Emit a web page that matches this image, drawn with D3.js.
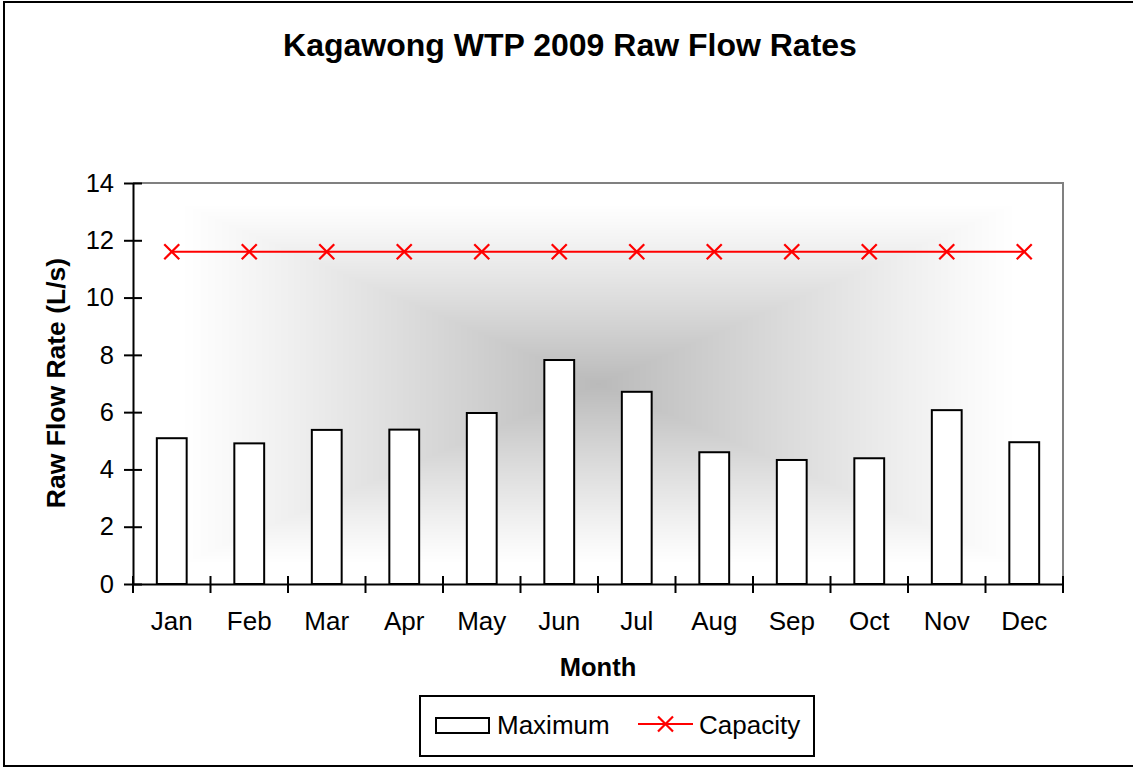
<!DOCTYPE html>
<html>
<head>
<meta charset="utf-8">
<script src="https://cdn.jsdelivr.net/npm/d3@7"></script>
<style>
  html, body { margin: 0; padding: 0; background: #fff; }
  svg { display: block; font-family: "Liberation Sans", Arial, sans-serif; }
</style>
</head>
<body>
<svg id="chart" width="1133" height="767"></svg>
<script>
const months = ["Jan","Feb","Mar","Apr","May","Jun","Jul","Aug","Sep","Oct","Nov","Dec"];
const maximum = [5.09, 4.91, 5.38, 5.39, 5.97, 7.82, 6.71, 4.60, 4.33, 4.39, 6.07, 4.95];
const capacity = [11.6, 11.6, 11.6, 11.6, 11.6, 11.6, 11.6, 11.6, 11.6, 11.6, 11.6, 11.6];
const yTicks = [0, 2, 4, 6, 8, 10, 12, 14];
const titleText = "Kagawong WTP 2009 Raw Flow Rates";
const xTitle = "Month";
const yTitle = "Raw Flow Rate (L/s)";
const seriesNames = ["Maximum", "Capacity"];

const svg = d3.select("#chart");
const plot = { left: 133, right: 1063, top: 183, bottom: 584 };
const FONT = "Liberation Sans, Arial, sans-serif";

// outer chart border
svg.append("rect").attr("x", 4).attr("y", 2).attr("width", 1140).attr("height", 764)
  .attr("fill", "#fff").attr("stroke", "#000").attr("stroke-width", 2);

const x = d3.scaleBand().domain(months).range([plot.left, plot.right]).padding(0);
const y = d3.scaleLinear().domain([0, 14]).range([plot.bottom, plot.top]);

// rectangular "from centre" gradient background via canvas
(function () {
  const w = plot.right - plot.left, h = plot.bottom - plot.top;
  const c = document.createElement("canvas");
  c.width = w; c.height = h;
  const ctx = c.getContext("2d");
  const img = ctx.createImageData(w, h);
  const cx = w / 2, cy = h / 2;
  for (let j = 0; j < h; j++) {
    for (let i = 0; i < w; i++) {
      const t = Math.max(Math.abs(i - cx) / cx, Math.abs(j - cy) / cy);
      const u = Math.min(1, t / 0.9);
      const s = 1 - Math.pow(1 - u, 1.1);
      const v = Math.round(186 + (255 - 186) * s);
      const k = (j * w + i) * 4;
      img.data[k] = v; img.data[k + 1] = v; img.data[k + 2] = v; img.data[k + 3] = 255;
    }
  }
  ctx.putImageData(img, 0, 0);
  svg.append("image").attr("x", plot.left).attr("y", plot.top)
    .attr("width", w).attr("height", h).attr("href", c.toDataURL());
})();

// plot area border (top/right gray)
svg.append("path")
  .attr("d", `M${plot.left},${plot.top}H${plot.right}V${plot.bottom}`)
  .attr("fill", "none").attr("stroke", "#808080").attr("stroke-width", 2);

// bars
const barW = x.bandwidth() * 0.385;
svg.append("g").selectAll("rect").data(months).join("rect")
  .attr("x", d => x(d) + x.bandwidth() / 2 - barW / 2)
  .attr("y", (d, i) => y(maximum[i]))
  .attr("width", barW)
  .attr("height", (d, i) => y(0) - y(maximum[i]))
  .attr("fill", "#fff").attr("stroke", "#000").attr("stroke-width", 2);

// capacity line
const line = d3.line().x((d, i) => x(months[i]) + x.bandwidth() / 2).y(d => y(d));
svg.append("path").datum(capacity).attr("d", line)
  .attr("fill", "none").attr("stroke", "#ff0000").attr("stroke-width", 2);
const ms = 7.5;
svg.append("g").selectAll("path").data(capacity).join("path")
  .attr("d", (d, i) => {
    const cx = x(months[i]) + x.bandwidth() / 2, cy = y(d);
    return `M${cx - ms},${cy - ms}L${cx + ms},${cy + ms}M${cx - ms},${cy + ms}L${cx + ms},${cy - ms}`;
  })
  .attr("stroke", "#ff0000").attr("stroke-width", 2.2).attr("fill", "none");

// y axis
const yAxis = svg.append("g").attr("transform", `translate(${plot.left},0)`)
  .call(d3.axisLeft(y).tickValues(yTicks).tickSize(9).tickSizeOuter(0).tickPadding(10));
yAxis.select(".domain").attr("stroke", "#000").attr("stroke-width", 2);
yAxis.selectAll(".tick line").attr("x1", 9).attr("stroke", "#000").attr("stroke-width", 2);
yAxis.selectAll(".tick text").attr("font-size", 25.5).attr("fill", "#000").attr("font-family", FONT);

// x axis
const xAxis = svg.append("g").attr("transform", `translate(0,${plot.bottom})`)
  .call(d3.axisBottom(x).tickSize(0).tickSizeOuter(0).tickPadding(28));
xAxis.select(".domain").attr("stroke", "#000").attr("stroke-width", 2);
xAxis.selectAll(".tick text").attr("font-size", 26).attr("fill", "#000").attr("font-family", FONT);
const bounds = months.map(m => x(m)).concat([x.range()[1]]);
svg.append("g").selectAll("line").data(bounds).join("line")
  .attr("x1", d => d).attr("x2", d => d)
  .attr("y1", plot.bottom - 8).attr("y2", plot.bottom + 9)
  .attr("stroke", "#000").attr("stroke-width", 2);

// titles
svg.append("text").attr("x", 570).attr("y", 56).attr("text-anchor", "middle")
  .attr("font-size", 32).attr("font-weight", "bold").text(titleText);
svg.append("text").attr("x", 598).attr("y", 676).attr("text-anchor", "middle")
  .attr("font-size", 25.5).attr("font-weight", "bold").text(xTitle);
svg.append("text").attr("transform", "translate(65,383) rotate(-90)").attr("text-anchor", "middle")
  .attr("font-size", 26.5).attr("font-weight", "bold").text(yTitle);

// legend
const lg = svg.append("g");
lg.append("rect").attr("x", 420).attr("y", 696).attr("width", 394).attr("height", 60)
  .attr("fill", "#fff").attr("stroke", "#000").attr("stroke-width", 2);
lg.append("rect").attr("x", 436).attr("y", 718).attr("width", 53).attr("height", 15)
  .attr("fill", "#fff").attr("stroke", "#000").attr("stroke-width", 2);
lg.append("text").attr("x", 497).attr("y", 734).attr("font-size", 26).text(seriesNames[0]);
lg.append("line").attr("x1", 638).attr("x2", 693).attr("y1", 724).attr("y2", 724)
  .attr("stroke", "#ff0000").attr("stroke-width", 2);
lg.append("path").attr("d", `M${665.5 - ms},${724 - ms}L${665.5 + ms},${724 + ms}M${665.5 - ms},${724 + ms}L${665.5 + ms},${724 - ms}`)
  .attr("stroke", "#ff0000").attr("stroke-width", 2.2);
lg.append("text").attr("x", 699).attr("y", 734).attr("font-size", 26).text(seriesNames[1]);
</script>
</body>
</html>
